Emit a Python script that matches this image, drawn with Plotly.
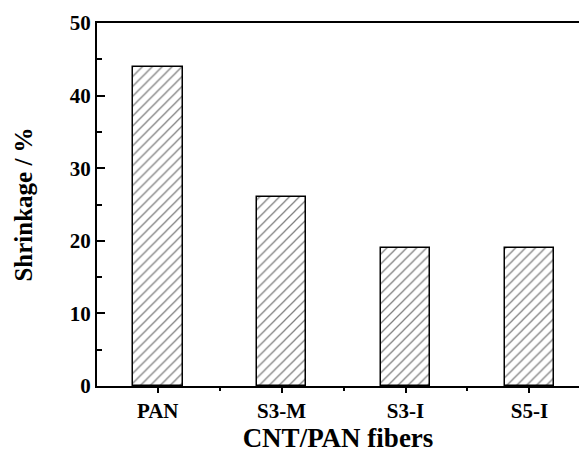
import plotly.graph_objects as go

categories = ["PAN", "S3-M", "S3-I", "S5-I"]
shrinkage = [44, 26, 19, 19]
y_ticks = [0, 10, 20, 30, 40, 50]

xpos = list(range(len(categories)))

fig = go.Figure()
fig.add_trace(go.Bar(
    x=xpos, y=shrinkage, width=0.4,
    marker=dict(color="white",
                line=dict(color="black", width=1.5),
                pattern=dict(shape="/", fgcolor="black", bgcolor="white",
                             size=7, solidity=0.18)),
    showlegend=False,
))

font_family = "Liberation Serif"
fig.update_layout(
    width=579, height=461,
    margin=dict(l=97, r=0, t=23, b=75),
    plot_bgcolor="white", paper_bgcolor="white",
    font=dict(family=font_family, color="black"),
    bargap=0,
)
fig.update_xaxes(
    range=[-0.49, 3.4],
    tickvals=xpos, ticktext=[f"<b>{c}</b>" for c in categories],
    tickfont=dict(size=21, family=font_family),
    ticks="outside", ticklen=5, tickwidth=1.5, tickcolor="black",
    minor=dict(tickvals=[0.5, 1.5, 2.5], ticks="outside", ticklen=3, tickwidth=1.5, tickcolor="black"),
    showline=True, linecolor="black", linewidth=2, mirror=True,
    showgrid=False, zeroline=False,
    title=dict(text="<b>CNT/PAN fibers</b>", font=dict(size=27, family=font_family), standoff=4),
)
fig.update_yaxes(
    range=[0, 50],
    tickvals=y_ticks, ticktext=[f"<b>{v}</b>" for v in y_ticks],
    tickfont=dict(size=21, family=font_family),
    ticks="inside", ticklen=8, tickwidth=1.5, tickcolor="black",
    minor=dict(dtick=5, tick0=0, ticks="inside", ticklen=5, tickwidth=1.5, tickcolor="black"),
    showline=True, linecolor="black", linewidth=2,
    showgrid=False, zeroline=False,
    title=dict(text="<b>Shrinkage / %</b>", font=dict(size=25, family=font_family), standoff=30),
)

fig.write_html("out.html", config={"displayModeBar": False},
               post_script="document.body.style.margin='0';")
